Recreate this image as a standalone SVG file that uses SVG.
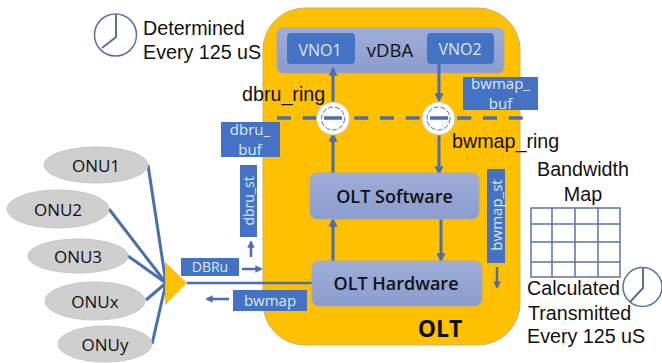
<svg xmlns="http://www.w3.org/2000/svg" width="662" height="363" viewBox="0 0 662 363">
<style>
text{font-family:"Liberation Sans",Arial,sans-serif;fill:#111}
.c{font-family:"Open Sans","Noto Sans",sans-serif;text-anchor:middle}
.w{fill:#dfe8f6;font-size:15px}
.box{fill:#4472c4}
.soft{fill:url(#g);stroke:#a5a9b8;stroke-width:1}
.onu{fill:#cfcfcf;stroke:#c4c7cc}
.l{stroke:#4a6fb0;stroke-width:3;fill:none}
.a{stroke:#4a6fb0;stroke-width:3;fill:none;marker-end:url(#ar)}
.clk{fill:#fff;stroke:#5a7198;stroke-width:1.5}
.h{fill:none;stroke:#5a7198;stroke-width:2}
.grid{stroke:#5a74a8;stroke-width:1.5;fill:none}
.lab{font-size:19.7px}
</style>
<defs>
<linearGradient id="g" x1="0" y1="0" x2="0" y2="1"><stop offset="0" stop-color="#9fadd8"/><stop offset="1" stop-color="#8a9ccf"/></linearGradient>
<marker id="ar" viewBox="0 0 4 4" markerWidth="3" markerHeight="3" refX="3" refY="2" orient="auto"><path d="M0,0L4,2L0,4z" fill="#4a6fb0"/></marker>
</defs>
<g id="olt"><rect x="263" y="8" width="257" height="337" rx="42" fill="#ffc000" stroke="#c8b26a"/><text x="440" y="337" font-size="23" font-weight="700" class="c">OLT</text></g>
<g id="vdba"><rect x="277" y="28" width="227" height="45" rx="6" class="soft"/><text x="390" y="57" font-size="18.5" class="c">vDBA</text></g>
<g id="vno1"><rect x="287" y="33" width="68" height="31" rx="4" class="box"/><text x="320" y="56" class="c w" style="font-size:16px">VNO1</text></g>
<g id="vno2"><rect x="427" y="33" width="67" height="31" rx="4" class="box"/><text x="460" y="55" class="c w" style="font-size:16px">VNO2</text></g>
<g id="connectors">
<path class="a" d="M333 102V69"/>
<path class="a" d="M439 64V100"/>
<path class="a" d="M439 134V173"/>
<path class="a" d="M333 173V135"/>
<path class="a" d="M333 261V220"/>
<path class="a" d="M441 219V260"/>
<path d="M277 118H525" stroke="#4a6fb0" stroke-width="3.5" stroke-dasharray="14 11.75" fill="none"/>
<path d="M187 283H312" class="l" style="stroke-width:2.5"/>
<path class="l" d="M148 165L166 283M109 209L166 283M128 256L166 283M146 300L166 283M152 344L166 283"/>
<path class="a" style="stroke-width:2.5" d="M251 257V242"/>
<path class="a" style="stroke-width:2.5" d="M242 269H261"/>
<path class="a" style="stroke-width:2.5" d="M229 299H207"/>
<path class="a" style="stroke-width:2.5" d="M497 267V287"/>
</g>
<g id="dbru_ring"><circle cx="333" cy="118.5" r="16.5" fill="#fff" stroke="#d9c28a"/><circle cx="333" cy="118.5" r="11.5" fill="none" stroke="#4a6fb0" stroke-dasharray="5 2"/><path d="M324 118H342" stroke="#4a6fb0" stroke-width="3.5"/></g>
<g id="bwmap_ring"><circle cx="438.5" cy="118.5" r="16.5" fill="#fff" stroke="#d9c28a"/><circle cx="438.5" cy="118.5" r="11.5" fill="none" stroke="#4a6fb0" stroke-dasharray="5 2"/><path d="M430 118H448" stroke="#4a6fb0" stroke-width="3.5"/></g>
<g id="triangle"><path d="M165 262L187 283L165 305z" fill="#ffc000"/></g>
<g id="onu1"><ellipse cx="96" cy="165" rx="52" ry="18" class="onu"/><text x="96" y="172" font-size="17" class="c">ONU1</text></g>
<g id="onu2"><ellipse cx="58" cy="209" rx="51" ry="19" class="onu"/><text x="58" y="216" font-size="17" class="c">ONU2</text></g>
<g id="onu3"><ellipse cx="78" cy="256" rx="50" ry="17" class="onu"/><text x="78" y="263" font-size="17" class="c">ONU3</text></g>
<g id="onux"><ellipse cx="95" cy="301" rx="50" ry="19" class="onu"/><text x="95" y="308" font-size="17" class="c">ONUx</text></g>
<g id="onuy"><ellipse cx="105" cy="344" rx="47" ry="18" class="onu"/><text x="105" y="351" font-size="17" class="c">ONUy</text></g>
<g id="dbru_buf"><rect x="221" y="122" width="59" height="35" class="box"/><text x="250" y="135" class="c w">dbru_</text><text x="250" y="155" class="c w">buf</text></g>
<g id="dbru_st"><rect x="240" y="165" width="17" height="72" class="box"/><text transform="translate(254 201) rotate(-90)" class="c w" style="font-size:14px">dbru_st</text></g>
<g id="bwmap_buf"><rect x="463" y="77" width="75" height="33" class="box"/><text x="500.5" y="89" class="c w">bwmap_</text><text x="500.5" y="109" class="c w">buf</text></g>
<g id="bwmap_st"><rect x="487" y="169" width="18" height="94" class="box"/><text transform="translate(502 215) rotate(-90)" class="c w">bwmap_st</text></g>
<g id="dbru"><rect x="181" y="258" width="58" height="18" class="box"/><text x="210" y="272" class="c w" style="font-size:14px">DBRu</text></g>
<g id="bwmap"><rect x="233" y="290" width="74" height="21" class="box"/><text x="270" y="306" class="c w">bwmap</text></g>
<g id="olt_software"><rect x="310" y="173" width="169" height="46" rx="7" class="soft"/><text x="394.5" y="203" font-size="18" font-weight="600" class="c">OLT Software</text></g>
<g id="olt_hardware"><rect x="312" y="261" width="170" height="45" rx="7" class="soft"/><text x="396" y="290" font-size="18" font-weight="600" class="c">OLT Hardware</text></g>
<g id="clock1"><circle cx="115.5" cy="35" r="21" class="clk"/><path class="h" d="M116 15V37L102 48"/></g>
<text x="143" y="35" class="lab">Determined</text>
<text x="143" y="59" class="lab">Every 125 uS</text>
<text x="242" y="101" class="lab">dbru_ring</text>
<text x="452" y="148" class="lab">bwmap_ring</text>
<text x="583" y="176" class="lab" text-anchor="middle">Bandwidth</text>
<text x="583" y="201" class="lab" text-anchor="middle">Map</text>
<g id="grid"><rect x="531" y="208" width="89" height="69" class="grid"/><path class="grid" d="M552 208V277M575 208V277M598 208V277M531 224H620M531 242H620M531 262H620"/></g>
<g id="clock2"><circle cx="642.5" cy="287" r="19.5" class="clk"/><path class="h" d="M643 268V288L630 302"/></g>
<text x="527" y="295" class="lab">Calculated</text>
<text x="528" y="320" class="lab">Transmitted</text>
<text x="527" y="343" class="lab">Every 125 uS</text>
</svg>
